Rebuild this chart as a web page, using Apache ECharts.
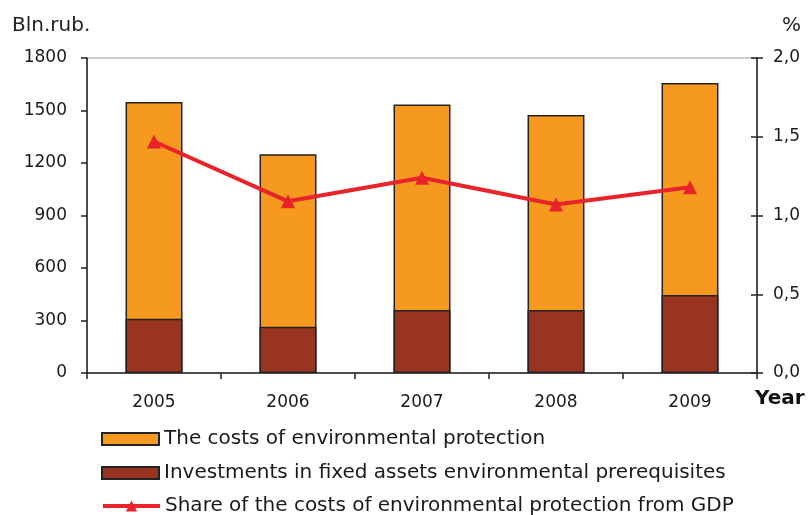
<!DOCTYPE html>
<html>
<head>
<meta charset="utf-8">
<script src="https://cdn.jsdelivr.net/npm/echarts@6/dist/echarts.min.js"></script>
<style>
html,body{margin:0;padding:0;background:#fff;}
#chart{width:808px;height:515px;}
</style>
</head>
<body>
<div id="chart"></div>
<script>
const years = ['2005', '2006', '2007', '2008', '2009'];
const costs = [1548, 1250, 1535, 1475, 1657];
const investments = [310, 265, 360, 360, 446];
const gdpShare = [1.47, 1.09, 1.24, 1.07, 1.18];
const seriesNames = [
  'The costs of environmental protection',
  'Investments in fixed assets environmental prerequisites',
  'Share of the costs of environmental protection from GDP'
];

const FONT = 'DejaVu Sans';
const legendTops = [429, 463, 496];
const chart = echarts.init(document.getElementById('chart'));
chart.setOption({
  animation: false,
  backgroundColor: '#fff',
  textStyle: { fontFamily: FONT, color: '#222' },
  grid: { left: 87, right: 51, top: 58, bottom: 142, show: true, borderColor: '#999', borderWidth: 1 },
  graphic: [
    { type: 'text', left: 12, top: 16, style: { text: 'Bln.rub.', font: '20px "DejaVu Sans"', fill: '#222' } },
    { type: 'text', left: 782, top: 16, style: { text: '%', font: '20px "DejaVu Sans"', fill: '#222' } },
    { type: 'text', left: 755, top: 389, style: { text: 'Year', font: 'bold 20px "DejaVu Sans"', fill: '#111' } }
  ],
  legend: seriesNames.map((n, i) => {
    const l = {
      orient: 'vertical',
      left: 101,
      top: legendTops[i],
      padding: 0,
      itemWidth: 57,
      itemHeight: i === 2 ? 14 : 12,
      textStyle: { fontFamily: FONT, fontSize: 20, color: '#1a1a1a', lineHeight: 20 },
      data: [n]
    };
    if (i < 2) {
      l.icon = 'rect';
      l.itemStyle = { borderColor: '#222', borderWidth: 2 };
    } else {
      l.lineStyle = { width: 4, color: '#E8232A' };
    }
    return l;
  }),
  xAxis: {
    type: 'category',
    data: years,
    axisLine: { lineStyle: { color: '#222', width: 1.5 } },
    axisTick: { show: true, length: 6, alignWithLabel: false, lineStyle: { color: '#222', width: 1.5 } },
    axisLabel: { fontFamily: FONT, fontSize: 17, color: '#1a1a1a', margin: 21 },
    splitLine: { show: false }
  },
  yAxis: [
    {
      type: 'value', min: 0, max: 1800, interval: 300, position: 'left',
      axisLine: { show: true, lineStyle: { color: '#222', width: 1.5 } },
      axisTick: { show: true, length: 6, lineStyle: { color: '#222', width: 1.5 } },
      axisLabel: { fontFamily: FONT, fontSize: 17, color: '#1a1a1a', margin: 20, formatter: v => String(v) },
      splitLine: { show: false }
    },
    {
      type: 'value', min: 0, max: 2, interval: 0.5, position: 'right',
      axisLine: { show: true, lineStyle: { color: '#222', width: 1.5 } },
      axisTick: { show: true, length: 6, lineStyle: { color: '#222', width: 1.5 } },
      axisLabel: { fontFamily: FONT, fontSize: 17, color: '#1a1a1a', margin: 16,
        formatter: v => v.toFixed(1).replace('.', ',') },
      splitLine: { show: false }
    },
    {
      type: 'value', min: 0, max: 2, interval: 0.5, position: 'right',
      axisLine: { show: false },
      axisTick: { show: true, inside: true, length: 6, lineStyle: { color: '#222', width: 1.5 } },
      axisLabel: { show: false },
      splitLine: { show: false }
    }
  ],
  series: [
    {
      name: seriesNames[0], type: 'bar', data: costs, barWidth: '42.5%', barGap: '-100%',
      itemStyle: { color: '#F6991F', borderColor: '#222', borderWidth: 1.5 }
    },
    {
      name: seriesNames[1], type: 'bar', data: investments, barWidth: '42.5%', barGap: '-100%',
      itemStyle: { color: '#98341F', borderColor: '#222', borderWidth: 1.5 }
    },
    {
      name: seriesNames[2], type: 'line', yAxisIndex: 1, data: gdpShare,
      symbol: 'triangle', symbolSize: 14,
      lineStyle: { color: '#E8232A', width: 4 },
      itemStyle: { color: '#E8232A' }
    }
  ]
});
</script>
</body>
</html>
